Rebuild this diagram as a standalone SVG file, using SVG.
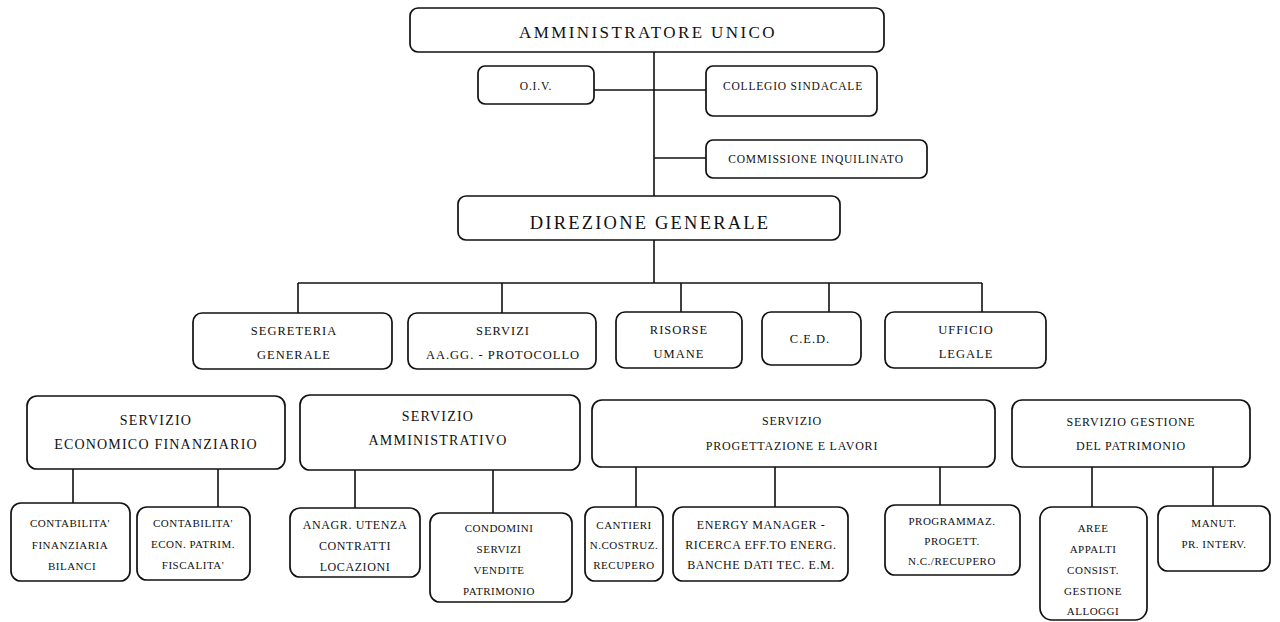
<svg xmlns="http://www.w3.org/2000/svg" width="1280" height="622" viewBox="0 0 1280 622">
<style>
.bg{fill:#fff}
.box{fill:#fff;stroke:#111;stroke-width:1.7}
.ln{stroke:#111;stroke-width:1.6;fill:none}
text{font-family:"Liberation Serif","Times New Roman",serif;fill:#111;text-anchor:middle}
.t1{font-size:17px;letter-spacing:2.4px}
.t0{font-size:11.5px;letter-spacing:0.8px}
.t2{font-size:12.5px;letter-spacing:1px}
.t3{font-size:12px;letter-spacing:0.8px}
.t3b{font-size:14px;letter-spacing:1.2px}
.t4{font-size:11px;letter-spacing:0.5px}
.t5{font-size:12px;letter-spacing:0.6px}
</style>
<rect class="bg" x="0" y="0" width="1280" height="622"/>
<g id="connectors">
<path class="ln" d="M654 52 V196"/>
<path class="ln" d="M594 90 H706"/>
<path class="ln" d="M654 158 H706"/>
<path class="ln" d="M654 240 V283"/>
<path class="ln" d="M298 283 H982"/>
<path class="ln" d="M298 283 V313 M502 283 V313 M681 283 V312 M829 283 V312 M982 283 V312"/>
<path class="ln" d="M73 469 V503 M218 469 V507"/>
<path class="ln" d="M355 470 V508 M493 470 V513"/>
<path class="ln" d="M636 467 V507 M775 467 V507 M940 467 V505"/>
<path class="ln" d="M1092 467 V507 M1213 467 V506"/>
</g>
<g id="amministratore"><rect class="box" x="410" y="8" width="474" height="44" rx="8"/><text class="t1" x="648" y="38">AMMINISTRATORE UNICO</text></g>
<g id="oiv"><rect class="box" x="478" y="66" width="116" height="38" rx="7"/><text class="t0" x="536" y="90">O.I.V.</text></g>
<g id="collegio"><rect class="box" x="706" y="66" width="171" height="50" rx="7"/><text class="t0" x="793" y="90">COLLEGIO SINDACALE</text></g>
<g id="commissione"><rect class="box" x="706" y="140" width="221" height="38" rx="7"/><text class="t0" x="816" y="163">COMMISSIONE INQUILINATO</text></g>
<g id="direzione"><rect class="box" x="458" y="196" width="382" height="44" rx="8"/><text class="t1" x="650" y="229" style="font-size:18.5px;letter-spacing:2.2px">DIREZIONE GENERALE</text></g>
<g id="segreteria"><rect class="box" x="193" y="313" width="199" height="56" rx="9"/><text class="t2" x="294" y="335">SEGRETERIA</text><text class="t2" x="294" y="359">GENERALE</text></g>
<g id="servizi-aagg"><rect class="box" x="408" y="313" width="188" height="56" rx="9"/><text class="t2" x="503" y="335">SERVIZI</text><text class="t2" x="503" y="359">AA.GG. - PROTOCOLLO</text></g>
<g id="risorse"><rect class="box" x="616" y="312" width="126" height="56" rx="9"/><text class="t2" x="679" y="334">RISORSE</text><text class="t2" x="679" y="358">UMANE</text></g>
<g id="ced"><rect class="box" x="762" y="312" width="99" height="53" rx="9"/><text class="t2" x="810" y="343">C.E.D.</text></g>
<g id="legale"><rect class="box" x="885" y="312" width="161" height="56" rx="9"/><text class="t2" x="966" y="334">UFFICIO</text><text class="t2" x="966" y="358">LEGALE</text></g>
<g id="economico"><rect class="box" x="27" y="396" width="258" height="73" rx="10"/><text class="t3b" x="156" y="425">SERVIZIO</text><text class="t3b" x="156" y="449">ECONOMICO FINANZIARIO</text></g>
<g id="amministrativo"><rect class="box" x="300" y="395" width="280" height="75" rx="10"/><text class="t3b" x="438" y="421">SERVIZIO</text><text class="t3b" x="438" y="445">AMMINISTRATIVO</text></g>
<g id="progettazione"><rect class="box" x="592" y="400" width="403" height="67" rx="10"/><text class="t3" x="792" y="425">SERVIZIO</text><text class="t3" x="792" y="450">PROGETTAZIONE E LAVORI</text></g>
<g id="gestione"><rect class="box" x="1012" y="400" width="238" height="67" rx="10"/><text class="t3" x="1131" y="426">SERVIZIO GESTIONE</text><text class="t3" x="1131" y="450">DEL PATRIMONIO</text></g>
<g id="cont-fin"><rect class="box" x="11" y="503" width="119" height="78" rx="10"/><text class="t4" x="70" y="527">CONTABILITA'</text><text class="t4" x="70" y="549">FINANZIARIA</text><text class="t4" x="72" y="570">BILANCI</text></g>
<g id="cont-econ"><rect class="box" x="137" y="507" width="113" height="73" rx="10"/><text class="t4" x="193" y="527">CONTABILITA'</text><text class="t4" x="193" y="548">ECON. PATRIM.</text><text class="t4" x="193" y="569">FISCALITA'</text></g>
<g id="anagrafe"><rect class="box" x="290" y="508" width="130" height="69" rx="10"/><text class="t5" x="355" y="529">ANAGR. UTENZA</text><text class="t5" x="355" y="550">CONTRATTI</text><text class="t5" x="355" y="571">LOCAZIONI</text></g>
<g id="condomini"><rect class="box" x="430" y="513" width="142" height="89" rx="10"/><text class="t4" x="499" y="532">CONDOMINI</text><text class="t4" x="499" y="553">SERVIZI</text><text class="t4" x="499" y="574">VENDITE</text><text class="t4" x="499" y="595">PATRIMONIO</text></g>
<g id="cantieri"><rect class="box" x="585" y="507" width="78" height="74" rx="10"/><text class="t4" x="624" y="529">CANTIERI</text><text class="t4" x="624" y="549">N.COSTRUZ.</text><text class="t4" x="624" y="569">RECUPERO</text></g>
<g id="energy"><rect class="box" x="673" y="507" width="175" height="74" rx="10"/><text class="t5" x="761" y="529">ENERGY MANAGER -</text><text class="t5" x="761" y="549">RICERCA EFF.TO ENERG.</text><text class="t5" x="761" y="569">BANCHE DATI TEC. E.M.</text></g>
<g id="programmaz"><rect class="box" x="885" y="505" width="135" height="70" rx="10"/><text class="t4" x="952" y="525">PROGRAMMAZ.</text><text class="t4" x="952" y="545">PROGETT.</text><text class="t4" x="952" y="565">N.C./RECUPERO</text></g>
<g id="aree"><rect class="box" x="1040" y="507" width="107" height="113" rx="12"/><text class="t4" x="1093" y="532">AREE</text><text class="t4" x="1093" y="553">APPALTI</text><text class="t4" x="1093" y="574">CONSIST.</text><text class="t4" x="1093" y="595">GESTIONE</text><text class="t4" x="1093" y="615">ALLOGGI</text></g>
<g id="manut"><rect class="box" x="1158" y="506" width="112" height="65" rx="10"/><text class="t4" x="1214" y="527">MANUT.</text><text class="t4" x="1214" y="548">PR. INTERV.</text></g>
</svg>
